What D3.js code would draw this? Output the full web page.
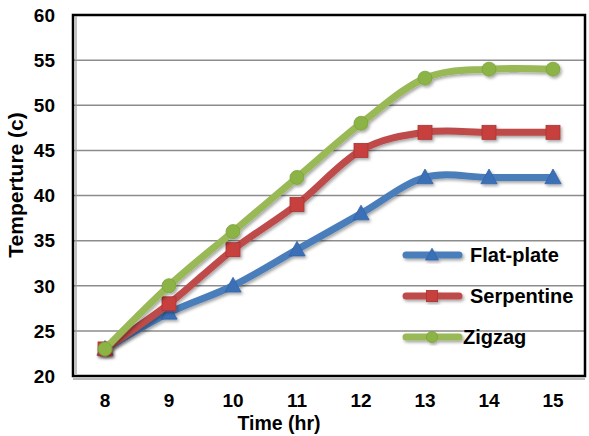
<!DOCTYPE html>
<html>
<head>
<meta charset="utf-8">
<script src="https://cdn.jsdelivr.net/npm/d3@7"></script>
<style>
  html, body { margin: 0; padding: 0; background: #fff; }
  svg { display: block; }
  text { font-family: "Liberation Sans", Arial, sans-serif; font-weight: bold; fill: #000; }
</style>
</head>
<body>
<svg id="chart" width="589" height="436"></svg>
<script>
// Hours of the day
const hours = [8, 9, 10, 11, 12, 13, 14, 15];
// Temperature readings (°C) per collector type
const flatPlate = [23, 27, 30, 34, 38, 42, 42, 42];
const serpentine = [23, 28, 34, 39, 45, 47, 47, 47];
const zigzag = [23, 30, 36, 42, 48, 53, 54, 54];
const seriesNames = ["Flat-plate", "Serpentine", "Zigzag"];
const yTicks = [20, 25, 30, 35, 40, 45, 50, 55, 60];

const series = [
  { name: seriesNames[0], values: flatPlate, color: "#4a7ebb", marker: "triangle" },
  { name: seriesNames[1], values: serpentine, color: "#be4b48", marker: "square" },
  { name: seriesNames[2], values: zigzag, color: "#98b954", marker: "circle" }
];

const svg = d3.select("#chart");
const plotLeft = 73, plotRight = 585, plotTop = 15, plotBottom = 376;

const x = d3.scaleBand().domain(hours).range([plotLeft, plotRight]);
const y = d3.scaleLinear().domain([20, 60]).range([plotBottom, plotTop]);
const cx = h => x(h) + x.bandwidth() / 2;

const defs = svg.append("defs");
const f = defs.append("filter").attr("id", "shadow")
  .attr("x", "-30%").attr("y", "-30%").attr("width", "160%").attr("height", "160%");
f.append("feDropShadow").attr("dx", 1.5).attr("dy", 2).attr("stdDeviation", 1.6)
  .attr("flood-color", "#000").attr("flood-opacity", 0.35);

// Horizontal gridlines
svg.append("g").selectAll("line").data(yTicks.slice(1, -1)).join("line")
  .attr("x1", plotLeft).attr("x2", plotRight)
  .attr("y1", d => y(d)).attr("y2", d => y(d))
  .attr("stroke", "#8c8c8c").attr("stroke-width", 1.5);

// Y tick labels
svg.append("g").selectAll("text").data(yTicks).join("text")
  .attr("x", 55).attr("y", d => y(d)).attr("dy", "0.36em")
  .attr("text-anchor", "end").attr("font-size", 19).text(d => d);

// X tick labels
svg.append("g").selectAll("text").data(hours).join("text")
  .attr("x", d => cx(d)).attr("y", 407)
  .attr("text-anchor", "middle").attr("font-size", 19).text(d => d);

// Axis titles
svg.append("text").attr("x", 279).attr("y", 430).attr("text-anchor", "middle")
  .attr("font-size", 19.5).text("Time (hr)");
svg.append("text").attr("transform", "translate(23,185) rotate(-90)")
  .attr("text-anchor", "middle").attr("font-size", 21).text("Temperture (c)");

function drawMarker(g, type, px, py, color, k) {
  const sz = 14 * k;
  if (type === "triangle") {
    g.append("path")
      .attr("d", `M${px},${py - sz * 0.6}L${px + sz * 0.58},${py + sz * 0.45}L${px - sz * 0.58},${py + sz * 0.45}Z`)
      .attr("fill", "#3a6fb7").attr("stroke", "#3463a8").attr("stroke-width", 0.8);
  } else if (type === "square") {
    g.append("rect").attr("x", px - sz / 2).attr("y", py - sz / 2)
      .attr("width", sz).attr("height", sz)
      .attr("fill", "#c8403c").attr("stroke", "#a83532").attr("stroke-width", 0.8);
  } else {
    g.append("circle").attr("cx", px).attr("cy", py).attr("r", sz / 2)
      .attr("fill", "#8cb345").attr("stroke", "#7da23c").attr("stroke-width", 0.8);
  }
}

// Legend (drawn before series so curves sit on top)
const legY = [255, 296, 337];
const leg = svg.append("g");
series.forEach((s, i) => {
  const g = leg.append("g").attr("filter", "url(#shadow)");
  g.append("line").attr("x1", 406).attr("x2", 459).attr("y1", legY[i]).attr("y2", legY[i])
    .attr("stroke", s.color).attr("stroke-width", 7).attr("stroke-linecap", "round");
  drawMarker(g, s.marker, 432, legY[i], s.color, 0.8);
  leg.append("text").attr("x", i === 2 ? 463 : 470).attr("y", legY[i]).attr("dy", "0.36em")
    .attr("font-size", 20).text(s.name);
});

// Smoothed series lines with markers
const line = d3.line().x(d => cx(d[0])).y(d => y(d[1])).curve(d3.curveCardinal.tension(0));
series.forEach(s => {
  const pts = hours.map((h, i) => [h, s.values[i]]);
  const g = svg.append("g").attr("filter", "url(#shadow)");
  g.append("path").datum(pts).attr("d", line)
    .attr("fill", "none").attr("stroke", s.color).attr("stroke-width", 7)
    .attr("stroke-linejoin", "round").attr("stroke-linecap", "round");
  pts.forEach(p => drawMarker(g, s.marker, cx(p[0]), y(p[1]), s.color, 1));
});

// Plot frame
const frame = svg.append("g");
frame.append("rect").attr("x", plotLeft).attr("y", plotTop)
  .attr("width", plotRight - plotLeft).attr("height", plotBottom - plotTop)
  .attr("fill", "none").attr("stroke", "#000").attr("stroke-width", 2.5);
frame.append("line").attr("x1", plotLeft + 3).attr("x2", plotLeft + 3)
  .attr("y1", plotTop + 1).attr("y2", plotBottom - 2)
  .attr("stroke", "#999").attr("stroke-width", 1.2);
frame.append("line").attr("x1", plotLeft).attr("x2", plotRight)
  .attr("y1", plotBottom + 3).attr("y2", plotBottom + 3)
  .attr("stroke", "#777").attr("stroke-width", 1.2);
</script>
</body>
</html>
